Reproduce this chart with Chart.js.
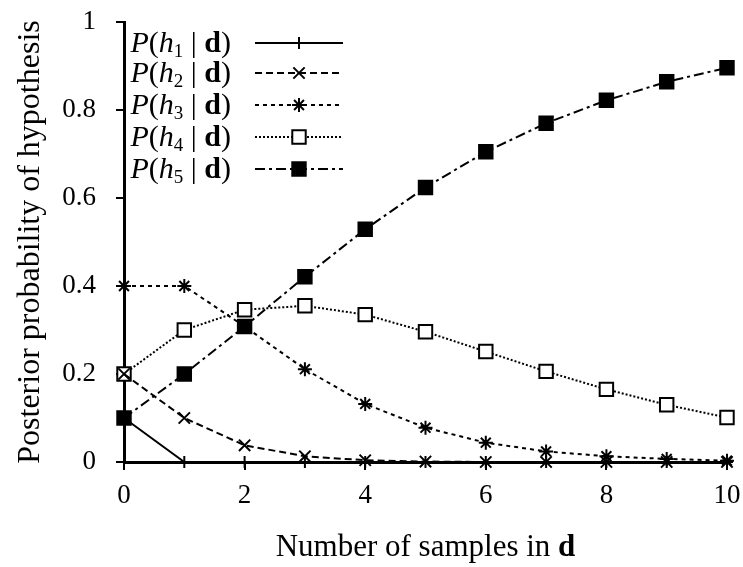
<!DOCTYPE html>
<html lang="en">
<head>
  <meta charset="UTF-8" />
  <title>Posterior probability of hypothesis</title>
  <script src="https://cdn.jsdelivr.net/npm/chart.js"></script>
  <style>
    html, body { margin: 0; padding: 0; background: #fff; }
    #chart { display: block; }
  </style>
</head>
<body>
  <canvas id="chart" width="743" height="567"></canvas>

  <script>
    // number of samples (all limes) observed
    const samples = [0, 1, 2, 3, 4, 5, 6, 7, 8, 9, 10];

    // posterior for each hypothesis
    const h1 = [0.1, 0, 0, 0, 0, 0, 0, 0, 0, 0, 0];
    const h2 = [0.2, 0.1, 0.038, 0.013, 0.004, 0.001, 0, 0, 0, 0, 0];
    const h3 = [0.4, 0.4, 0.308, 0.211, 0.132, 0.078, 0.044, 0.024, 0.013, 0.007, 0.003];
    const h4 = [0.2, 0.3, 0.346, 0.355, 0.335, 0.296, 0.251, 0.206, 0.165, 0.13, 0.101];
    const h5 = [0.1, 0.2, 0.308, 0.421, 0.529, 0.624, 0.705, 0.77, 0.822, 0.864, 0.896];

    const yTicks = [0, 0.2, 0.4, 0.6, 0.8, 1];
    const xTicks = [0, 2, 4, 6, 8, 10];

    const serif = "'Liberation Serif', 'Times New Roman', serif";
    const ink = "#000";

    const toPoints = arr => arr.map((v, i) => ({ x: samples[i], y: v }));

    function series(sub, data, dash, style, radius, fill) {
      return {
        label: "P(h" + sub + " | d)",
        sub: sub,
        data: toPoints(data),
        borderColor: ink,
        borderWidth: 2,
        borderDash: dash,
        pointStyle: style,
        pointRadius: radius,
        pointBorderWidth: 2,
        pointBorderColor: ink,
        pointBackgroundColor: fill,
        tension: 0,
        fill: false,
        clip: false
      };
    }

    const datasets = [
      series("1", h1, [], "cross", 6, ink),
      series("2", h2, [7, 4], "crossRot", 8, ink),
      series("3", h3, [4, 4], "star", 7, ink),
      series("4", h4, [2, 2], "rect", 9.5, "#fff"),
      series("5", h5, [10, 4, 3, 4], "rect", 9.5, ink)
    ];

    // legend drawn inside the plot: text first, then the line sample
    const legendPlugin = {
      id: "sideLegend",
      afterDraw(chart) {
        const ctx = chart.ctx;
        const rows = [43, 73, 105, 137, 169];
        const size = 30;
        chart.data.datasets.forEach((ds, i) => {
          const y = rows[i];
          const parts = [
            { t: "P", f: "italic " + size + "px " + serif, dy: 0 },
            { t: "(", f: size + "px " + serif, dy: 0 },
            { t: "h", f: "italic " + size + "px " + serif, dy: 0 },
            { t: ds.sub, f: Math.round(size * 0.62) + "px " + serif, dy: 8 },
            { t: " | ", f: size + "px " + serif, dy: 0 },
            { t: "d", f: "bold " + size + "px " + serif, dy: 0 },
            { t: ")", f: size + "px " + serif, dy: 0 }
          ];
          ctx.save();
          ctx.fillStyle = ink;
          ctx.textBaseline = "middle";
          let total = 0;
          parts.forEach(p => { ctx.font = p.f; p.w = ctx.measureText(p.t).width; total += p.w; });
          let x = 231 - total;
          parts.forEach(p => {
            ctx.font = p.f;
            ctx.fillText(p.t, x, y + 1 + p.dy);
            x += p.w;
          });

          ctx.strokeStyle = ink;
          ctx.lineWidth = ds.borderWidth;
          ctx.setLineDash(ds.borderDash);
          ctx.beginPath();
          ctx.moveTo(255, y);
          ctx.lineTo(343, y);
          ctx.stroke();
          ctx.setLineDash([]);
          ctx.fillStyle = ds.pointBackgroundColor;
          ctx.lineWidth = ds.pointBorderWidth;
          Chart.helpers.drawPoint(ctx, {
            pointStyle: ds.pointStyle,
            radius: ds.pointRadius,
            rotation: 0,
            borderWidth: ds.pointBorderWidth
          }, 299, y);
          ctx.restore();
        });

        // x axis title with bold d
        const area = chart.chartArea;
        const cx = (area.left + area.right) / 2;
        const a = "Number of samples in ", b = "d";
        const tsize = 31;
        ctx.save();
        ctx.fillStyle = ink;
        ctx.textBaseline = "middle";
        ctx.font = tsize + "px " + serif;
        const wa = ctx.measureText(a).width;
        ctx.font = "bold " + tsize + "px " + serif;
        const wb = ctx.measureText(b).width;
        let x = cx - (wa + wb) / 2;
        ctx.font = tsize + "px " + serif;
        ctx.fillText(a, x, 548);
        ctx.font = "bold " + tsize + "px " + serif;
        ctx.fillText(b, x + wa, 548);
        ctx.restore();
      }
    };

    new Chart(document.getElementById("chart"), {
      type: "line",
      data: { datasets: datasets },
      options: {
        responsive: false,
        animation: false,
        layout: { padding: { left: 0, right: 16, top: 22, bottom: 0 } },
        plugins: {
          legend: { display: false },
          tooltip: { enabled: false }
        },
        scales: {
          x: {
            type: "linear",
            min: 0,
            max: 10,
            afterBuildTicks: s => { s.ticks = xTicks.map(v => ({ value: v })); },
            afterFit: s => { s.height = 105; s.paddingLeft = 0; s.paddingRight = 0; },
            border: { color: ink, width: 3 },
            grid: { drawOnChartArea: false, drawTicks: true, tickLength: 8, color: ink, lineWidth: 2 },
            ticks: {
              color: ink,
              padding: 10,
              font: { family: serif, size: 27 },
              callback: v => String(v)
            }
          },
          y: {
            type: "linear",
            min: 0,
            max: 1,
            afterBuildTicks: s => { s.ticks = yTicks.map(v => ({ value: v })); },
            afterFit: s => { s.width = 124; s.paddingTop = 0; s.paddingBottom = 0; },
            border: { color: ink, width: 3 },
            grid: { drawOnChartArea: false, drawTicks: true, tickLength: 8, color: ink, lineWidth: 2 },
            ticks: {
              color: ink,
              padding: 20,
              font: { family: serif, size: 27 },
              callback: v => String(Math.round(v * 10) / 10)
            },
            title: {
              display: true,
              text: "Posterior probability of hypothesis",
              color: ink,
              font: { family: serif, size: 32 },
              padding: { top: 11, bottom: 0 }
            }
          }
        }
      },
      plugins: [legendPlugin]
    });
  </script>
</body>
</html>
